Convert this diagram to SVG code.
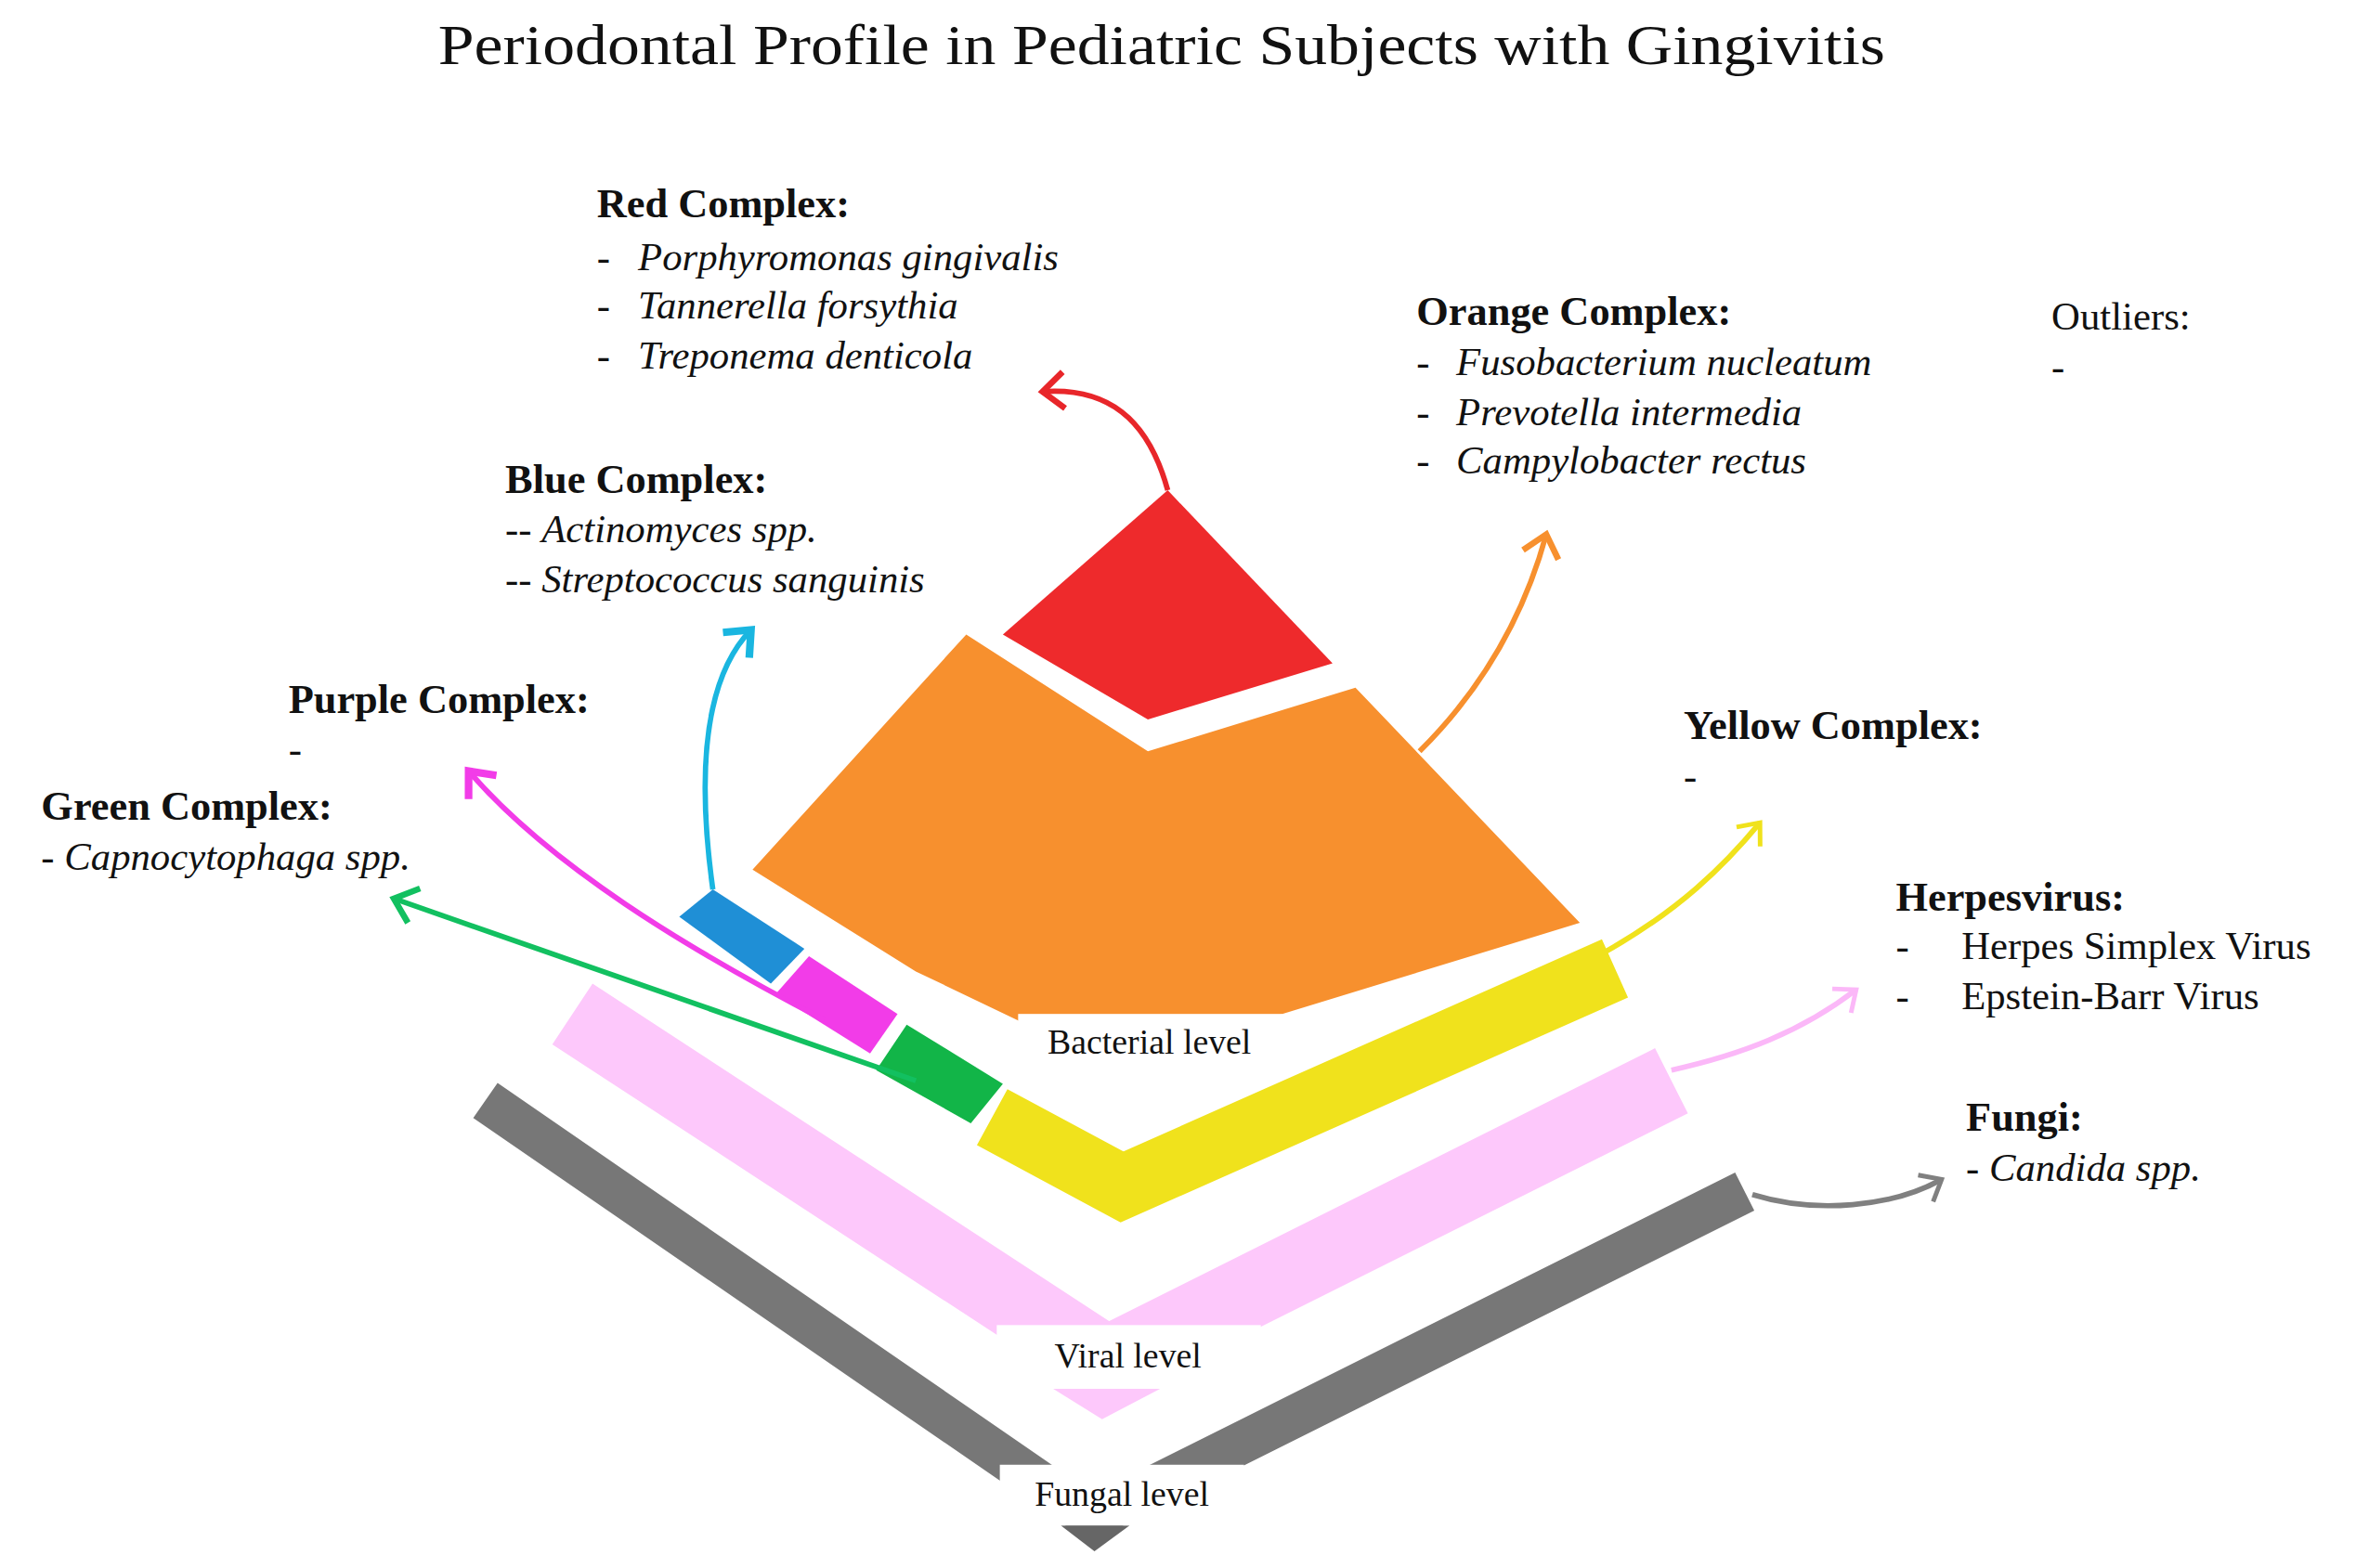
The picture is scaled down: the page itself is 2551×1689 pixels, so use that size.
<svg xmlns="http://www.w3.org/2000/svg" width="2551" height="1689" viewBox="0 0 2551 1689">
<style>
text{font-family:"Liberation Serif","DejaVu Serif",serif;fill:#111}
.h{font-size:27px;font-weight:bold}
.i{font-size:26px;font-style:italic}
.r{font-size:26px}
.lbl{font-size:23px}
.arr{fill:none;stroke-width:3.5}
.band{fill:none;stroke-linejoin:miter}
</style>
<defs>
<marker id="mr" markerUnits="userSpaceOnUse" markerWidth="40" markerHeight="40" refX="20" refY="20" orient="auto"><path d="M6,8 L20,20 L6,32" fill="none" stroke="#e8262a" stroke-width="4"/></marker>
<marker id="mo" markerUnits="userSpaceOnUse" markerWidth="40" markerHeight="40" refX="20" refY="20" orient="auto"><path d="M6,8 L20,20 L6,32" fill="none" stroke="#f7902e" stroke-width="4"/></marker>
<marker id="mb" markerUnits="userSpaceOnUse" markerWidth="40" markerHeight="40" refX="20" refY="20" orient="auto"><path d="M6,8 L20,20 L6,32" fill="none" stroke="#1ab6e0" stroke-width="5"/></marker>
<marker id="mp" markerUnits="userSpaceOnUse" markerWidth="40" markerHeight="40" refX="20" refY="20" orient="auto"><path d="M6,8 L20,20 L6,32" fill="none" stroke="#f23ce8" stroke-width="5"/></marker>
<marker id="mg" markerUnits="userSpaceOnUse" markerWidth="40" markerHeight="40" refX="20" refY="20" orient="auto"><path d="M6,8 L20,20 L6,32" fill="none" stroke="#12c060" stroke-width="4"/></marker>
<marker id="my" markerUnits="userSpaceOnUse" markerWidth="40" markerHeight="40" refX="20" refY="20" orient="auto"><path d="M8,10 L20,20 L8,30" fill="none" stroke="#f0e21c" stroke-width="3"/></marker>
<marker id="mk" markerUnits="userSpaceOnUse" markerWidth="40" markerHeight="40" refX="20" refY="20" orient="auto"><path d="M8,10 L20,20 L8,30" fill="none" stroke="#fbb8f8" stroke-width="3"/></marker>
<marker id="mx" markerUnits="userSpaceOnUse" markerWidth="40" markerHeight="40" refX="20" refY="20" orient="auto"><path d="M8,10 L20,20 L8,30" fill="none" stroke="#808080" stroke-width="3"/></marker>
</defs>
<rect width="2551" height="1689" fill="#fff"/>
<g transform="scale(1.6437,1.635)">
<text x="287" y="42" textLength="948" lengthAdjust="spacingAndGlyphs" style="font-size:38px">Periodontal Profile in Pediatric Subjects with Gingivitis</text>

<g id="fungal">
<polyline class="band" points="318,725 715,1000 1143,785" stroke="#777" stroke-width="28"/>
<polygon points="695,1005 740,1005 717,1022" fill="#666"/>
<rect x="655" y="965" width="160" height="40" fill="#fff"/>
<text class="lbl" x="735" y="992" text-anchor="middle">Fungal level</text>
</g>
<g id="viral">
<polyline class="band" points="375,668 725,898 1095,712" stroke="#fdc8fb" stroke-width="48"/>
<rect x="653" y="873" width="173" height="42" fill="#fff"/>
<polygon points="690,915 760,915 722,935" fill="#fdc8fb"/>
<text class="lbl" x="739" y="901" text-anchor="middle">Viral level</text>
</g>
<g id="bacterial">
<polygon points="493,573 633,418 752,495 888,453 1035,608 840,668 735,705 600,640" fill="#f7902e"/>
<polygon points="765,323 873,437 752,474 657,418" fill="#ee2a2c"/>
<polygon points="445,604 467,586 527,625 505,648" fill="#1f8fd6"/>
<polygon points="508,655 530,630 588,668 570,694" fill="#f23ce8"/>
<polygon points="574,705 594,675 657,714 636,740" fill="#12b548"/>
<polyline class="band" points="650,736 735,782 1058,638" stroke="#f0e21c" stroke-width="42"/>
<rect x="667" y="668" width="173" height="40" fill="#fff"/>
<text class="lbl" x="753" y="694" text-anchor="middle">Bacterial level</text>
</g>

<g id="connectors">
<path class="arr" d="M765,323 C752,275 725,255 683,258" stroke="#e8262a" marker-end="url(#mr)"/>
<path class="arr" d="M930,495 C975,450 1000,400 1013,352" stroke="#f7902e" marker-end="url(#mo)"/>
<path class="arr" d="M467,586 C458,520 458,450 492,415" stroke="#1ab6e0" marker-end="url(#mb)"/>
<path class="arr" d="M540,672 C450,625 360,570 307,508" stroke="#f23ce8" marker-end="url(#mp)"/>
<path class="arr" d="M600,712 L258,592" stroke="#12c060" marker-end="url(#mg)"/>
<path class="arr" d="M1050,628 C1100,600 1130,570 1153,542" stroke="#f0e21c" stroke-width="2.5" marker-end="url(#my)"/>
<path class="arr" d="M1095,705 C1140,695 1180,680 1216,652" stroke="#fbb8f8" stroke-width="2.5" marker-end="url(#mk)"/>
<path class="arr" d="M1148,787 C1190,800 1240,795 1272,777" stroke="#808080" stroke-width="2.5" marker-end="url(#mx)"/>
</g>

<g id="red-label">
<text class="h" x="391" y="143">Red Complex:</text>
<text class="r" x="391" y="178">-</text><text class="i" x="418" y="178">Porphyromonas gingivalis</text>
<text class="r" x="391" y="210">-</text><text class="i" x="418" y="210">Tannerella forsythia</text>
<text class="r" x="391" y="243">-</text><text class="i" x="418" y="243">Treponema denticola</text>
</g>
<g id="orange-label">
<text class="h" x="928" y="214">Orange Complex:</text>
<text class="r" x="928" y="247">-</text><text class="i" x="954" y="247">Fusobacterium nucleatum</text>
<text class="r" x="928" y="280">-</text><text class="i" x="954" y="280">Prevotella intermedia</text>
<text class="r" x="928" y="312">-</text><text class="i" x="954" y="312">Campylobacter rectus</text>
</g>
<g id="outliers">
<text class="r" x="1344" y="217">Outliers:</text>
<text class="r" x="1344" y="250">-</text>
</g>
<g id="blue-label">
<text class="h" x="331" y="325">Blue Complex:</text>
<text class="r" x="331" y="357">-- <tspan class="i">Actinomyces spp.</tspan></text>
<text class="r" x="331" y="390">-- <tspan class="i">Streptococcus sanguinis</tspan></text>
</g>
<g id="purple-label">
<text class="h" x="189" y="470">Purple Complex:</text>
<text class="r" x="189" y="502">-</text>
</g>
<g id="green-label">
<text class="h" x="27" y="540">Green Complex:</text>
<text class="r" x="27" y="573">- <tspan class="i">Capnocytophaga spp.</tspan></text>
</g>
<g id="yellow-label">
<text class="h" x="1103" y="487">Yellow Complex:</text>
<text class="r" x="1103" y="520">-</text>
</g>
<g id="herpes-label">
<text class="h" x="1242" y="600">Herpesvirus:</text>
<text class="r" x="1242" y="632">-</text><text class="r" x="1285" y="632">Herpes Simplex Virus</text>
<text class="r" x="1242" y="665">-</text><text class="r" x="1285" y="665">Epstein-Barr Virus</text>
</g>
<g id="fungi-label">
<text class="h" x="1288" y="745">Fungi:</text>
<text class="r" x="1288" y="778">- <tspan class="i">Candida spp.</tspan></text>
</g>
</g>
</svg>
